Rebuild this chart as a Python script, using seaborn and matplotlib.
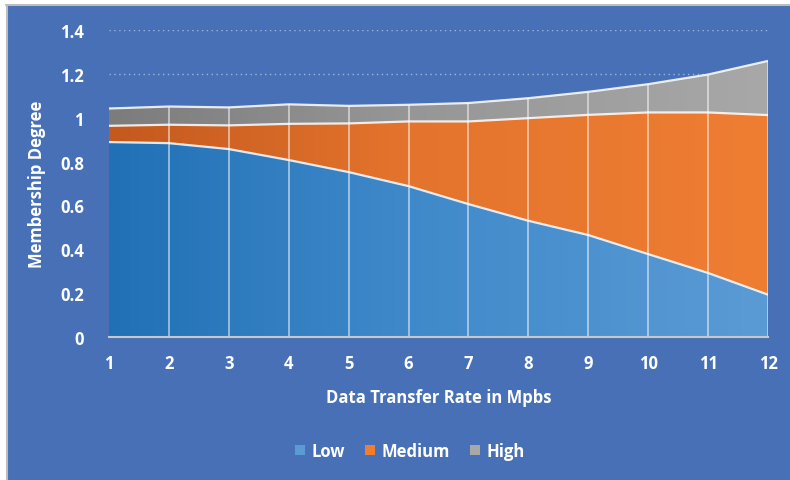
import numpy as np
import pandas as pd
import matplotlib
matplotlib.use("Agg")
import matplotlib.pyplot as plt
from matplotlib.colors import LinearSegmentedColormap
from matplotlib.patches import Rectangle
from matplotlib.lines import Line2D
import seaborn as sns

# Data transfer rate (Mbps) and membership degree of each fuzzy set
rates = [1, 2, 3, 4, 5, 6, 7, 8, 9, 10, 11, 12]
low = [0.889, 0.884, 0.857, 0.807, 0.752, 0.688, 0.606, 0.530, 0.465, 0.378, 0.292, 0.193]
medium = [0.074, 0.084, 0.108, 0.165, 0.222, 0.295, 0.377, 0.468, 0.548, 0.646, 0.732, 0.819]
high = [0.079, 0.083, 0.082, 0.089, 0.080, 0.076, 0.084, 0.091, 0.105, 0.129, 0.173, 0.247]
series_names = ["Low", "Medium", "High"]
y_ticks = [0, 0.2, 0.4, 0.6, 0.8, 1.0, 1.2, 1.4]

df = pd.DataFrame({"rate": rates, "Low": low, "Medium": medium, "High": high})

sns.set_theme(style="white")
plt.rcParams["font.family"] = ["Open Sans", "DejaVu Sans"]
plt.rcParams["font.weight"] = "bold"

BG = "#4870b7"
gradients = {
    "Low": ("#2170b5", "#3f89ca", "#5b9bd5"),
    "Medium": ("#c4591e", "#e4742d", "#ef7e33"),
    "High": ("#7c7c7c", "#969696", "#a8a8a8"),
}
FS = 12

fig = plt.figure(figsize=(7.9, 4.81), dpi=100, facecolor=BG)
# light frame along the top and left edges
fig.patches.append(Rectangle((0, 0.988), 1, 0.012, transform=fig.transFigure,
                             facecolor="white", edgecolor="none", zorder=9))
fig.patches.append(Rectangle((0, 0), 0.0075, 1, transform=fig.transFigure,
                             facecolor="white", edgecolor="none", zorder=9))
fig.lines.append(Line2D([0.0075, 1], [0.987, 0.987], transform=fig.transFigure,
                        color="#bdbdbd", lw=1.5, zorder=10))
fig.lines.append(Line2D([0.0085, 0.0085], [0, 0.988], transform=fig.transFigure,
                        color="#bdbdbd", lw=1.5, zorder=10))

ax = fig.add_axes([109 / 790, 1 - 338 / 481, (768 - 109) / 790, (338 - 31) / 481])
ax.set_facecolor(BG)

# cumulative layers
bottoms = np.zeros(len(rates))
tops = {}
for name in series_names:
    top = bottoms + df[name].to_numpy()
    tops[name] = (bottoms.copy(), top)
    bottoms = top

# dotted horizontal grid
for yv in y_ticks[1:]:
    ax.axhline(yv, color="#9fb5dd", lw=1, ls=(0, (1, 2.5)), zorder=0)

xs = np.array(rates, dtype=float)
for name in series_names:
    lo, hi = tops[name]
    poly = ax.fill_between(xs, lo, hi, facecolor="none", edgecolor="none", zorder=1)
    cmap = LinearSegmentedColormap.from_list(
        name, list(zip([0.0, 0.45, 1.0], gradients[name])))
    grad = np.linspace(0, 1, 256).reshape(1, -1)
    im = ax.imshow(grad, cmap=cmap, aspect="auto", extent=[1, 12, 0, 1.5],
                   origin="lower", zorder=1, interpolation="bilinear")
    im.set_clip_path(poly.get_paths()[0], transform=ax.transData)

# boundary lines of each stacked layer
line_df = pd.DataFrame({
    "rate": rates * 3,
    "value": list(tops["Low"][1]) + list(tops["Medium"][1]) + list(tops["High"][1]),
    "layer": ["Low"] * 12 + ["Medium"] * 12 + ["High"] * 12,
})
sns.lineplot(data=line_df, x="rate", y="value", units="layer", estimator=None,
             color="white", alpha=0.85, lw=1.6, ax=ax, zorder=3, legend=False)

# vertical drop lines at each category
ax.vlines(xs[1:], 0, tops["High"][1][1:], color="white", alpha=0.5, lw=1.4, zorder=2)

ax.set_xlim(1, 12)
ax.set_ylim(0, 1.4)
ax.set_xticks(rates)
ax.set_xticklabels([str(r) for r in rates])
ax.set_yticks(y_ticks)
ax.set_yticklabels(["0", "0.2", "0.4", "0.6", "0.8", "1", "1.2", "1.4"])
ax.tick_params(axis="both", length=0, labelsize=FS, labelcolor="white")
ax.tick_params(axis="y", pad=18)
ax.tick_params(axis="x", pad=12)
for lab in ax.get_xticklabels() + ax.get_yticklabels():
    lab.set_fontweight("bold")

for side in ["top", "right", "left"]:
    ax.spines[side].set_visible(False)
ax.spines["bottom"].set_color("#c8c8c8")
ax.spines["bottom"].set_linewidth(1.5)
ax.spines["bottom"].set_zorder(4)

ax.set_xlabel("Data Transfer Rate in Mpbs", fontsize=FS, fontweight="bold",
              color="white", labelpad=12)
ax.set_ylabel("Membership Degree", fontsize=FS, fontweight="bold",
              color="white", labelpad=10)

handles = [Rectangle((0, 0), 1, 1, facecolor=gradients[n][2], edgecolor="none")
           for n in series_names]
leg = fig.legend(handles, series_names, loc="center",
                 bbox_to_anchor=(410 / 790, 1 - 452 / 481), ncol=3, frameon=False,
                 handlelength=0.6, handleheight=0.6, handletextpad=0.4,
                 columnspacing=1.2, fontsize=FS)
for t in leg.get_texts():
    t.set_color("white")
    t.set_fontweight("bold")

fig.savefig("out.png", dpi=100, facecolor=BG)
